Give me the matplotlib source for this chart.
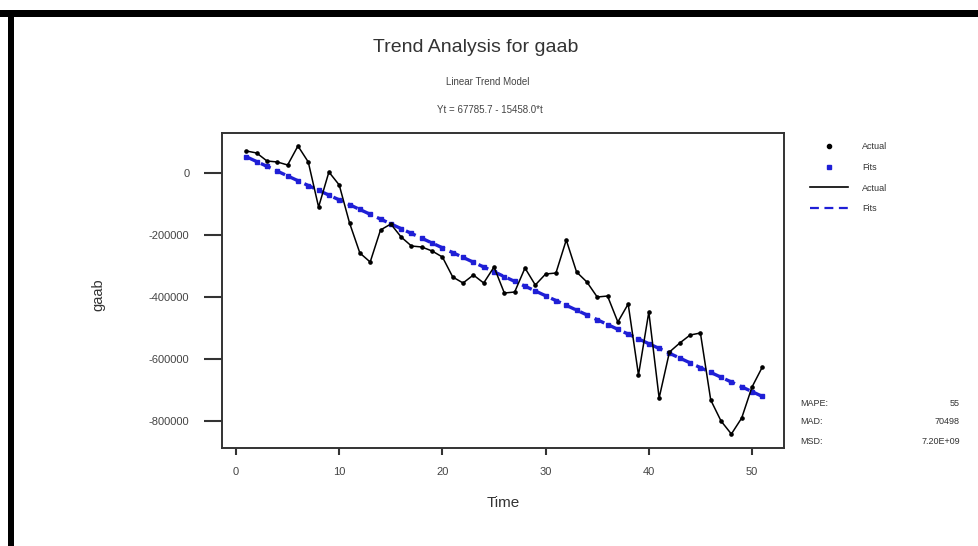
import numpy as np
import matplotlib
matplotlib.use("Agg")
import matplotlib.pyplot as plt
from matplotlib.patches import Rectangle
from matplotlib.lines import Line2D

plt.rcParams['font.family'] = ['Liberation Sans', 'DejaVu Sans']

# series: gaab, observations t = 1..51
t = np.arange(1, 52)
gaab = [
    71000, 64500, 38700, 35500, 25800, 87100, 35500, -109700, 3200, -38700,
    -161300, -258100, -287100, -183900, -164500, -206500, -235500, -238700, -251600, -271000,
    -335500, -354800, -329000, -354800, -303200, -387100, -383900, -306500, -361300, -325800,
    -322600, -216100, -319400, -351600, -400000, -396800, -480600, -422600, -651600, -448400,
    -725800, -577400, -548400, -522600, -516100, -732300, -800000, -841900, -790300, -690300,
    -625800,
]

# linear trend model Yt = b0 + b1*t
b0 = 67785.7
b1 = -15458.0
fits = b0 + b1 * t

accuracy_names = ["MAPE:", "MAD:", "MSD:"]
accuracy_values = ["55", "70498", "7.20E+09"]

y_ticks = [0, -200000, -400000, -600000, -800000]
y_tick_labels = ["0", "-200000", "-400000", "-600000", "-800000"]
x_ticks = [0, 10, 20, 30, 40, 50]

W, H = 979, 546
fig = plt.figure(figsize=(W / 100, H / 100), dpi=100)

# black frame along the top and left edge
fig.add_artist(Rectangle((0, 1 - 17 / H), 1, 7 / H, transform=fig.transFigure,
                         facecolor='black', edgecolor='none'))
fig.add_artist(Rectangle((8 / W, 0), 6 / W, 1 - 10 / H, transform=fig.transFigure,
                         facecolor='black', edgecolor='none'))

ax = fig.add_axes([222 / W, 1 - 448 / H, (784 - 222) / W, (448 - 133) / H])

blue = '#1f1fd6'
ax.plot(t, gaab, color='black', lw=1.1, marker='o', ms=2.3, zorder=3)
ax.plot(t, fits, color=blue, lw=2.4, ls=(0, (3.2, 1.6)), marker='s', ms=2.2,
        mec=blue, mfc=blue, zorder=2)

ax.set_xlim(-1.36, 53.1)
ax.set_ylim(-887000, 129000)
ax.set_xticks(x_ticks)
ax.set_yticks(y_ticks)
ax.set_yticklabels(y_tick_labels)

for s in ax.spines.values():
    s.set_color('#333333')
    s.set_linewidth(1.4)
ax.tick_params(axis='y', direction='out', length=13, width=1.5, color='#333333',
               pad=10.5, labelsize=8, labelcolor='#444444')
ax.tick_params(axis='x', direction='out', length=5, width=1.5, color='#333333',
               pad=9, labelsize=8, labelcolor='#444444')

fig.text(98 / W, 1 - 295 / H, "gaab", rotation=90, ha='center', va='center',
         fontsize=10.5, color='#333333')
fig.text(503 / W, 1 - 503 / H, "Time", ha='center', va='center',
         fontsize=11, color='#333333')

fig.text(476 / W, 1 - 47 / H, "Trend Analysis for gaab", ha='center', va='center',
         fontsize=14, color='#333333')
fig.text(488 / W, 1 - 82 / H, "Linear Trend Model", ha='center', va='center',
         fontsize=7, color='#444444')
fig.text(490 / W, 1 - 110 / H, f"Yt = {b0:.1f} - {abs(b1):.1f}*t", ha='center',
         va='center', fontsize=7, color='#444444')

# legend
handles = [
    Line2D([], [], ls='none', marker='o', ms=3, color='black'),
    Line2D([], [], ls='none', marker='s', ms=2.5, color=blue),
    Line2D([], [], color='black', lw=1.2),
    Line2D([], [], color=blue, lw=1.6, ls=(0, (4, 2.5))),
]
fig.legend(handles, ["Actual", "Fits", "Actual", "Fits"], loc='upper left',
           bbox_to_anchor=(802 / W, 1 - 134 / H), frameon=False, fontsize=6.5,
           handlelength=4.2, handletextpad=1.55, labelspacing=1.3,
           labelcolor='#333333')

# accuracy measures
for i, (name, val) in enumerate(zip(accuracy_names, accuracy_values)):
    y = 1 - (403 + 19 * i) / H
    fig.text(800 / W, y, name, ha='left', va='center', fontsize=6.5, color='#333333')
    fig.text(960 / W, y, val, ha='right', va='center', fontsize=6.5, color='#333333')

fig.savefig("out.png", dpi=100, facecolor='white')
